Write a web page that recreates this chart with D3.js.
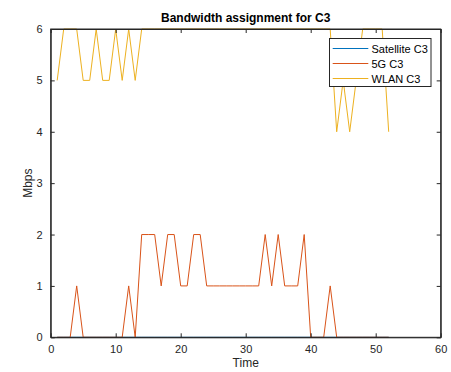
<!DOCTYPE html>
<html>
<head>
<meta charset="utf-8">
<script src="https://cdn.jsdelivr.net/npm/d3@7"></script>
<style>
  body { margin: 0; background: #fff; }
  text { font-family: "Liberation Sans", Arial, sans-serif; }
</style>
</head>
<body>
<script>
// time steps 1..52
const time = d3.range(1, 53);
const satelliteC3 = time.map(() => 0);
const fiveGC3 = [0,0,0,1,0,0,0,0,0,0,0,1,0,2,2,2,1,2,2,1,1,2,2,1,1,1,1,1,1,1,1,1,2,1,2,1,1,1,2,0,0,0,1,0,0,0,0,0,0,0,0,0];
const wlanC3 = [5,6,6,6,5,5,6,5,5,6,5,6,5,6,6,6,6,6,6,6,6,6,6,6,6,6,6,6,6,6,6,6,6,6,6,6,6,6,6,6,6,6,6,4,5,4,5,6,6,6,6,4];
const seriesNames = ["Satellite C3", "5G C3", "WLAN C3"];
const seriesColors = ["#0072BD", "#D95319", "#EDB120"];
const xTicks = [0, 10, 20, 30, 40, 50, 60];
const yTicks = [0, 1, 2, 3, 4, 5, 6];

const W = 451, H = 372;
const m = { left: 50.7, right: W - 440.7, top: 29, bottom: H - 337.3 };

const svg = d3.select("body").append("svg")
    .attr("width", W)
    .attr("height", H);

const x = d3.scaleLinear().domain([0, 60]).range([m.left, W - m.right]);
const y = d3.scaleLinear().domain([0, 6]).range([H - m.bottom, m.top]);

const axisColor = "#262626";
const tickLen = 4;

// lines
const allSeries = [satelliteC3, fiveGC3, wlanC3];
const line = d3.line().x((d, i) => x(time[i])).y(d => y(d));
const plot = svg.append("g");
allSeries.forEach((s, k) => {
  plot.append("path")
    .datum(s)
    .attr("fill", "none")
    .attr("stroke", seriesColors[k])
    .attr("stroke-width", 1)
    .attr("d", line);
});

// box
svg.append("rect")
    .attr("x", x(0)).attr("y", y(6))
    .attr("width", x(60) - x(0)).attr("height", y(0) - y(6))
    .attr("fill", "none").attr("stroke", axisColor).attr("stroke-width", 1);

// axes with inward ticks
const fmt = d3.format("d");
const xAxis = svg.append("g").attr("transform", `translate(0,${y(0)})`)
    .call(d3.axisBottom(x).tickValues(xTicks).tickFormat(fmt).tickSizeInner(-tickLen).tickSizeOuter(0).tickPadding(8));
const xAxisTop = svg.append("g").attr("transform", `translate(0,${y(6)})`)
    .call(d3.axisTop(x).tickValues(xTicks).tickSizeInner(-tickLen).tickSizeOuter(0).tickFormat(""));
const yAxis = svg.append("g").attr("transform", `translate(${x(0)},0)`)
    .call(d3.axisLeft(y).tickValues(yTicks).tickFormat(fmt).tickSizeInner(-tickLen).tickSizeOuter(0).tickPadding(8));
const yAxisR = svg.append("g").attr("transform", `translate(${x(60)},0)`)
    .call(d3.axisRight(y).tickValues(yTicks).tickSizeInner(-tickLen).tickSizeOuter(0).tickFormat(""));

[xAxis, xAxisTop, yAxis, yAxisR].forEach(g => {
  g.select(".domain").attr("stroke", axisColor);
  g.selectAll(".tick line").attr("stroke", axisColor);
  g.selectAll(".tick text")
    .attr("fill", axisColor)
    .style("font-size", "11px")
    .style("font-family", "'Liberation Sans', Arial, sans-serif");
});

// title and labels
svg.append("text")
    .attr("x", (x(0) + x(60)) / 2).attr("y", 22)
    .attr("text-anchor", "middle")
    .style("font-size", "12px").style("font-weight", "bold")
    .attr("fill", "#000")
    .text("Bandwidth assignment for C3");

svg.append("text")
    .attr("x", (x(0) + x(60)) / 2).attr("y", 367)
    .attr("text-anchor", "middle")
    .style("font-size", "12px")
    .attr("fill", axisColor)
    .text("Time");

svg.append("text")
    .attr("transform", `translate(32,${(y(0) + y(6)) / 2}) rotate(-90)`)
    .attr("text-anchor", "middle")
    .style("font-size", "12px")
    .attr("fill", axisColor)
    .text("Mbps");

// legend
const lg = svg.append("g");
lg.append("rect")
    .attr("x", 329.5).attr("y", 38.5)
    .attr("width", 101.5).attr("height", 48)
    .attr("fill", "#fff").attr("stroke", axisColor).attr("stroke-width", 1);
seriesNames.forEach((name, k) => {
  const ly = 48.5 + k * 15;
  lg.append("line")
    .attr("x1", 332.7).attr("x2", 368.3)
    .attr("y1", ly).attr("y2", ly)
    .attr("stroke", seriesColors[k]).attr("stroke-width", 1);
  lg.append("text")
    .attr("x", 371.5).attr("y", ly + 4)
    .style("font-size", "11px")
    .attr("fill", "#000")
    .text(name);
});
</script>
</body>
</html>
